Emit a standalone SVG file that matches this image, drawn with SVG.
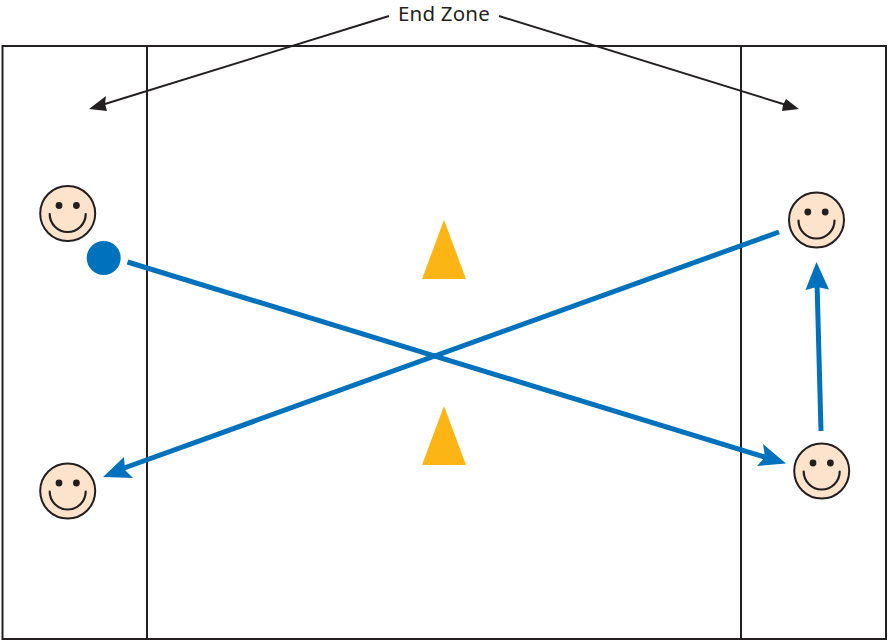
<svg xmlns="http://www.w3.org/2000/svg" width="888" height="640" viewBox="0 0 888 640">
<style>
.field{fill:none;stroke:#231f20;stroke-width:2}
.face{fill:#fde3cb;stroke:#231f20;stroke-width:2}
.eye{fill:#231f20}
.smile{fill:none;stroke:#231f20;stroke-width:2.200;stroke-linecap:round}
.cone{fill:#fdb515}
.blue{fill:none;stroke:#0071bc;stroke-width:5}
.thin{fill:none;stroke:#231f20;stroke-width:1.900}
</style>
<defs>
<g id="smiley">
<circle class="face" cx="0" cy="0" r="27.5"/>
<circle class="eye" cx="-8.700" cy="-8" r="3.400"/>
<circle class="eye" cx="8.700" cy="-8" r="3.400"/>
<path class="smile" d="M-18 0.500A18 18 0 0 0 18 0.500"/>
</g>
</defs>
<rect width="888" height="640" fill="#fff"/>
<g id="field">
<rect class="field" x="2.500" y="46" width="883.500" height="593"/>
<line class="field" x1="147" y1="46" x2="147" y2="639"/>
<line class="field" x1="741" y1="46" x2="741" y2="639"/>
</g>
<g id="connectors">
<line class="thin" x1="389" y1="16" x2="100" y2="105.500"/>
<path fill="#231f20" d="M89 109L106 96L105 104L107 111Z"/>
<line class="thin" x1="499" y1="16" x2="788" y2="105.500"/>
<path fill="#231f20" d="M799 109L786 99L783 105L782 111Z"/>
<line class="blue" x1="127.500" y1="262" x2="768" y2="458"/>
<path fill="#0071bc" d="M786 463.500L763 444L765 457L757 466Z"/>
<line class="blue" x1="779" y1="232" x2="120" y2="469.500"/>
<path fill="#0071bc" d="M103 477L133 478L125 470L124 457Z"/>
<line class="blue" x1="821" y1="431" x2="817" y2="282"/>
<path fill="#0071bc" d="M816.500 262L805.500 290L817 287L829 289.500Z"/>
</g>
<g id="player-top-left"><use href="#smiley" x="67.700" y="213.500"/></g>
<g id="player-bottom-left"><use href="#smiley" x="67.700" y="491"/></g>
<g id="player-top-right"><use href="#smiley" x="816.500" y="220"/></g>
<g id="player-bottom-right"><use href="#smiley" x="821.700" y="471"/></g>
<g id="ball"><circle cx="103.700" cy="258" r="17" fill="#0071bc"/></g>
<g id="cone-top"><path class="cone" d="M444 220L466 279H422Z"/></g>
<g id="cone-bottom"><path class="cone" d="M444 406L466 465H422Z"/></g>
<g id="label"><text x="444" y="20.500" text-anchor="middle" font-family="'Noto Sans','Open Sans',sans-serif" font-size="20.500" letter-spacing="0.200" fill="#231f20">End Zone</text></g>
</svg>
